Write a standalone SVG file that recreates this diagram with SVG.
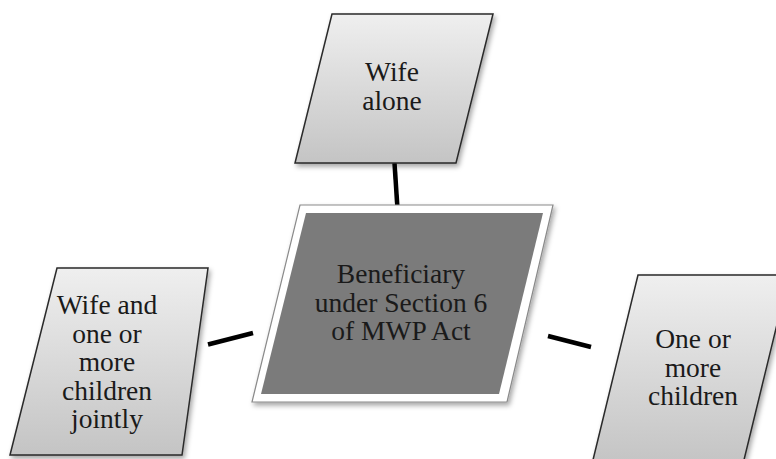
<svg xmlns="http://www.w3.org/2000/svg" width="776" height="459" viewBox="0 0 776 459">
  <defs>
    <linearGradient id="lg" x1="0" y1="0" x2="0" y2="1">
      <stop offset="0" stop-color="#efefef"/>
      <stop offset="1" stop-color="#c4c4c4"/>
    </linearGradient>
    <filter id="sh" x="-20%" y="-20%" width="140%" height="140%">
      <feDropShadow dx="2" dy="3" stdDeviation="2.5" flood-color="#000" flood-opacity="0.35"/>
    </filter>
    <style>
      .side { fill: url(#lg); stroke: #2a2a2a; stroke-width: 1.5; filter: url(#sh); }
      .txt { font-family: "Liberation Serif", "Times New Roman", serif; font-size: 27.5px; fill: #1a1a1a; text-anchor: middle; }
      .con { stroke: #000; stroke-width: 4.5; stroke-linecap: butt; fill: none; }
    </style>
  </defs>
  <rect width="776" height="459" fill="#fff"/>

  <g id="connectors">
    <line class="con" x1="394.5" y1="163" x2="397.5" y2="209"/>
    <line class="con" x1="208" y1="344.5" x2="253" y2="333"/>
    <line class="con" x1="548" y1="336" x2="591" y2="347"/>
  </g>

  <g id="node-top">
    <polygon class="side" points="332,14 493,14 456,163 295,163"/>
    <text class="txt" x="392" y="81">Wife</text>
    <text class="txt" x="392" y="110">alone</text>
  </g>

  <g id="node-center">
    <polygon points="300,205 553,205 507,402 252,402" fill="#fff" stroke="#8a8a8a" stroke-width="1.2" filter="url(#sh)"/>
    <polygon points="306,213 543,213 499,394 261,394" fill="#7b7b7b"/>
    <text class="txt" x="401" y="283">Beneficiary</text>
    <text class="txt" x="401" y="312">under Section 6</text>
    <text class="txt" x="401" y="340">of MWP Act</text>
  </g>

  <g id="node-left">
    <polygon class="side" points="57,268 208,268 182,455 10,455"/>
    <text class="txt" x="107" y="314">Wife and</text>
    <text class="txt" x="107" y="343">one or</text>
    <text class="txt" x="107" y="371">more</text>
    <text class="txt" x="107" y="400">children</text>
    <text class="txt" x="107" y="428">jointly</text>
  </g>

  <g id="node-right">
    <polygon class="side" points="638,275 789,275 743,464 592,464"/>
    <text class="txt" x="693" y="348">One or</text>
    <text class="txt" x="693" y="377">more</text>
    <text class="txt" x="693" y="405">children</text>
  </g>
</svg>
